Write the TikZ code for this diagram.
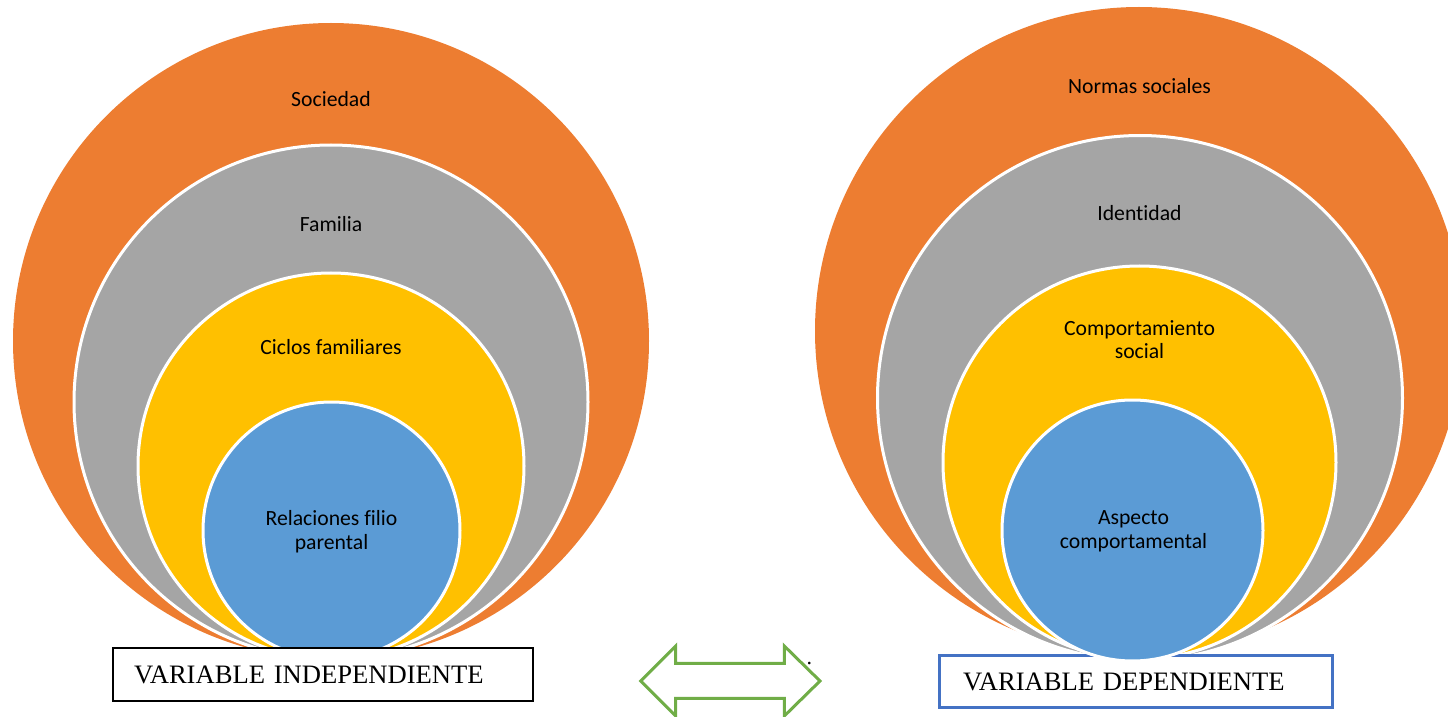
\documentclass[tikz,border=0pt]{standalone}
\usepackage{fontspec}
\setmainfont{Carlito}[Ligatures=NoCommon]
\newfontfamily\boxfont{Liberation Serif}
\definecolor{orng}{HTML}{ED7D31}
\definecolor{gry}{HTML}{A5A5A5}
\definecolor{ylw}{HTML}{FFC000}
\definecolor{blu}{HTML}{5B9BD5}
\definecolor{grn}{HTML}{70AD47}
\definecolor{boxblue}{HTML}{4472C4}
\begin{document}
\begin{tikzpicture}[x=0.5pt,y=-0.5pt,
  ring/.style={circle, inner sep=0pt, draw=white, line width=1.5pt},
  lbl/.style={font=\fontsize{10.85}{11.8}\selectfont, align=center, text=black, inner sep=0pt},
  varbox/.style={rectangle, inner xsep=0pt, inner ysep=0pt, align=left,
     font=\boxfont\fontsize{13.3}{14}\selectfont}]
\useasboundingbox (0,0) rectangle (1448,717);
\clip (0,0) rectangle (1448,717);
% left set
\node[ring, fill=orng, draw=none, minimum size=318pt] (lo) at (331,341) {};
\node[ring, fill=gry, minimum size=257pt] (lg) at (331,402) {};
\node[ring, fill=ylw, minimum size=193pt] (ly) at (331,466) {};
\node[ring, fill=blu, minimum size=128.5pt] (lb) at (331.5,530.5) {};
\node[lbl] (tlo) at (331,99) {Sociedad};
\node[lbl] (tlg) at (331,224) {Familia};
\node[lbl] (tly) at (331,347) {Ciclos familiares};
\node[lbl] (tlb) at (331.5,532) {Relaciones filio\\parental};
\node[varbox, draw=black, line width=0.75pt, fill=white, minimum width=210pt, minimum height=26.5pt,
      text width=189pt, inner xsep=10.5pt] (vi) at (323,674.5) {VARIABLE INDEPENDIENTE};
% right set
\node[ring, fill=orng, draw=none, minimum size=324pt] (ro) at (1139,331) {};
\node[ring, fill=gry, minimum size=262.5pt] (rg) at (1140,398) {};
\node[ring, fill=ylw, minimum size=196.5pt] (ry) at (1139.5,462.5) {};
\node[varbox, draw=boxblue, line width=1.35pt, fill=white, minimum width=196.5pt, minimum height=26pt,
      text width=173pt, inner xsep=11.7pt] (vd) at (1136,681.7) {VARIABLE DEPENDIENTE};
\node[ring, fill=blu, minimum size=130.5pt] (rb) at (1132.5,530.5) {};
\node[lbl] (tro) at (1139.5,86) {Normas sociales};
\node[lbl] (trg) at (1139.5,213) {Identidad};
\node[lbl] (try) at (1139.5,339.5) {Comportamiento\\social};
\node[lbl] (trb) at (1133.5,531.5) {Aspecto\\comportamental};
% double arrow
\draw[grn, line width=1.5pt, fill=white, line join=miter]
  (640.7,681) -- (675.7,646) -- (675.7,663.3) -- (784.3,663.3) -- (784.3,646) -- (820,681)
  -- (784.3,716) -- (784.3,698.3) -- (675.7,698.3) -- (675.7,716) -- cycle;
\node[font=\boxfont\fontsize{11}{11}\selectfont, inner sep=0pt, anchor=base] (dot) at (809.3,664) {.};
\end{tikzpicture}
\end{document}
